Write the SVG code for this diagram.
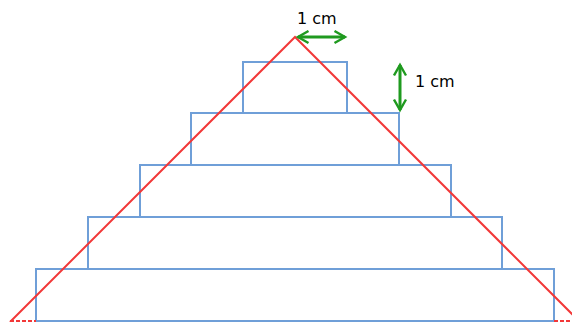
<svg xmlns="http://www.w3.org/2000/svg" width="572" height="322" viewBox="0 0 572 322">
<style>
.step{fill:none;stroke:#6f9fd8;stroke-width:2}
.red{fill:none;stroke:#f23838;stroke-width:2}
.dash{fill:none;stroke:#f23838;stroke-width:2;stroke-dasharray:4 2}
.dim{fill:none;stroke:#1f9a1f;stroke-width:3}
.lbl{font-family:"DejaVu Sans",Verdana,sans-serif;font-size:16px;fill:#000}
</style>
<defs>
<marker id="ah" viewBox="0 0 10 10" refX="8" refY="5" markerWidth="5" markerHeight="5" orient="auto-start-reverse" markerUnits="strokeWidth">
<path d="M1,1 L8,5 L1,9" fill="none" stroke="#1f9a1f" stroke-width="1.6" stroke-linejoin="miter"/>
</marker>
</defs>
<rect width="572" height="322" fill="#fff"/>
<g id="step1"><rect class="step" x="243" y="62" width="104" height="51"/></g>
<g id="step2"><rect class="step" x="191" y="113" width="208" height="52"/></g>
<g id="step3"><rect class="step" x="140" y="165" width="311" height="52"/></g>
<g id="step4"><rect class="step" x="88" y="217" width="414" height="52"/></g>
<g id="step5"><rect class="step" x="36" y="269" width="518" height="52"/></g>
<g id="connectors">
<path class="red" d="M10,322 L295,37 L580,322"/>
<path class="dash" d="M10,321 H36 M554,321 H572"/>
<path class="dim" d="M298,37 H345" marker-start="url(#ah)" marker-end="url(#ah)"/>
<path class="dim" d="M400,65 V110" marker-start="url(#ah)" marker-end="url(#ah)"/>
</g>
<g id="labels">
<text class="lbl" x="297" y="24">1 cm</text>
<text class="lbl" x="415" y="87">1 cm</text>
</g>
</svg>
